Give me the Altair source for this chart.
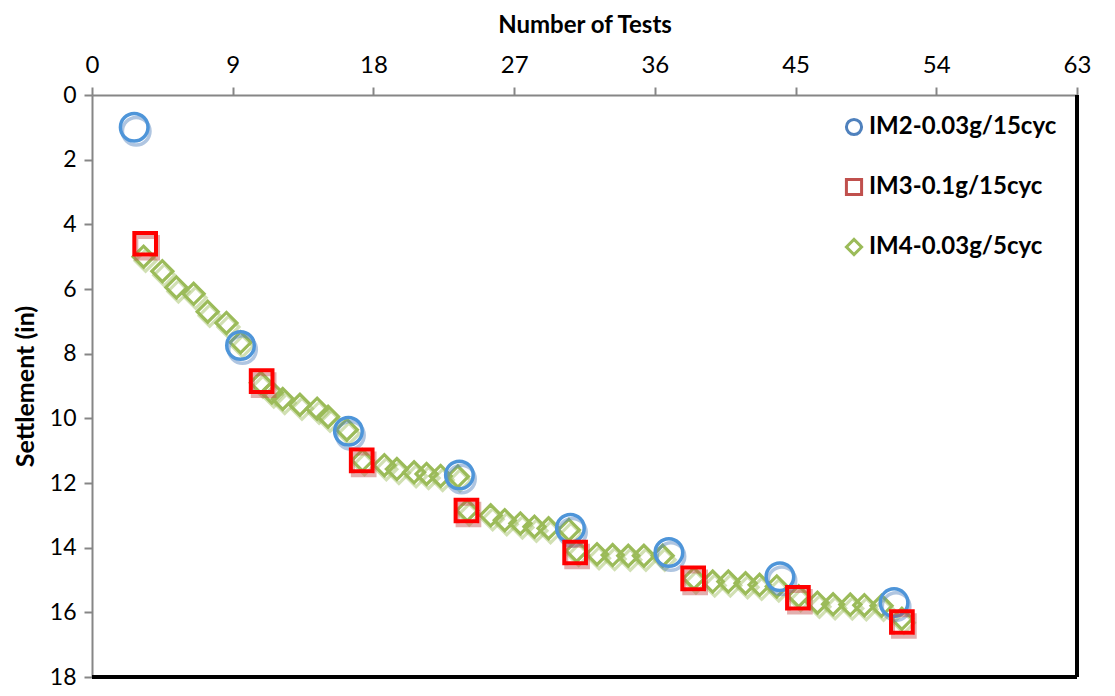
import altair as alt
import pandas as pd

series_names = ["IM2-0.03g/15cyc", "IM3-0.1g/15cyc", "IM4-0.03g/5cyc"]
legend_colors = ["#4f81bd", "#c0504d", "#9bbb59"]
front_colors = ["#4e95d9", "#ff0000", "#9bbb59"]
shapes = ["circle", "square", "diamond"]

im2_tests = [2.7, 9.5, 16.4, 23.5, 30.6, 36.9, 44.0, 51.3]
im2_settle = [1.0, 7.75, 10.4, 11.75, 13.4, 14.15, 14.9, 15.7]

im3_tests = [3.4, 10.85, 17.25, 23.95, 30.9, 38.45, 45.15, 51.8]
im3_settle = [4.6, 8.85, 11.3, 12.85, 14.15, 14.95, 15.55, 16.3]

im4_tests = [3.3, 4.5, 5.4, 6.5, 7.4, 8.6, 9.5, 10.8, 11.5, 12.2, 13.3, 14.4, 15.1,
             16.3, 17.3, 18.7, 19.5, 20.6, 21.4, 22.3, 23.4, 24.0, 25.5, 26.4, 27.4,
             28.3, 29.2, 30.5, 31.0, 32.3, 33.3, 34.3, 35.3, 36.5, 38.5, 39.7, 40.7,
             41.8, 42.7, 43.8, 45.2, 46.4, 47.4, 48.5, 49.4, 50.5, 51.8]
im4_settle = [5.0, 5.45, 5.95, 6.15, 6.7, 7.05, 7.65, 8.9, 9.2, 9.4, 9.58, 9.7, 9.95,
              10.35, 11.3, 11.45, 11.57, 11.67, 11.72, 11.78, 11.8, 12.85, 13.0, 13.15, 13.25,
              13.35, 13.4, 13.45, 14.1, 14.2, 14.23, 14.25, 14.25, 14.25, 14.95, 15.05, 15.05,
              15.1, 15.15, 15.2, 15.5, 15.7, 15.75, 15.76, 15.78, 15.8, 16.2]

x_ticks = [0, 9, 18, 27, 36, 45, 54, 63]
y_ticks = [0, 2, 4, 6, 8, 10, 12, 14, 16, 18]

rows = []
for name, xs, ys in [(series_names[0], im2_tests, im2_settle),
                     (series_names[1], im3_tests, im3_settle),
                     (series_names[2], im4_tests, im4_settle)]:
    for a, b in zip(xs, ys):
        rows.append({"series": name, "tests": a, "settlement": b})
df = pd.DataFrame(rows)

FONT = "Lato"

x_enc = alt.X("tests:Q", scale=alt.Scale(domain=[0, 63], nice=False, zero=False),
              axis=alt.Axis(orient="top", values=x_ticks, title="Number of Tests",
                            titleFontWeight="bold", titleFontSize=24, titleFont=FONT,
                            titleBaseline="top", titleY=-82, titleColor="black",
                            labelFontSize=24, labelFont=FONT, labelColor="black",
                            labelPadding=10, tickSize=8, tickColor="#868686", tickWidth=2,
                            domainColor="#868686", domainWidth=2, grid=False, labelFlush=False))
y_enc = alt.Y("settlement:Q", scale=alt.Scale(domain=[0, 18], reverse=True, nice=False, zero=False),
              axis=alt.Axis(orient="left", values=y_ticks, title="Settlement (in)",
                            titleFontWeight="bold", titleFontSize=25, titleFont=FONT,
                            titleBaseline="alphabetic", titleX=-59, titleAngle=270,
                            titleColor="black",
                            labelFontSize=23, labelFont=FONT, labelColor="black",
                            labelPadding=8, tickSize=8, tickColor="#868686", tickWidth=2,
                            domainColor="#868686", domainWidth=2, grid=False, labelFlush=False))

legend = alt.Legend(title=None, orient="none", legendX=750, legendY=20,
                    labelFont=FONT, labelFontSize=24, labelFontWeight="bold", labelColor="black",
                    labelLimit=0,
                    symbolSize=230, symbolStrokeWidth=3, symbolOpacity=1, rowPadding=32,
                    labelOffset=3, symbolType="circle")

sizes = {series_names[0]: 760, series_names[1]: 470, series_names[2]: 440}
widths = {series_names[0]: 3.5, series_names[1]: 4, series_names[2]: 3.2}

layers = []
for idx in [2, 0, 1]:
    name = series_names[idx]
    shadow = alt.Chart(df).transform_filter(alt.datum.series == name).mark_point(
        filled=False, size=sizes[name], strokeWidth=widths[name], opacity=0.45,
        xOffset=2, yOffset=4
    ).encode(
        x=x_enc, y=y_enc,
        shape=alt.Shape("series:N", scale=alt.Scale(domain=series_names, range=shapes), legend=legend),
        stroke=alt.Stroke("series:N", scale=alt.Scale(domain=series_names, range=legend_colors), legend=legend),
    )
    front = alt.Chart(df).transform_filter(alt.datum.series == name).mark_point(
        filled=False, size=sizes[name], strokeWidth=widths[name], opacity=1,
        shape=shapes[idx], color=front_colors[idx]
    ).encode(x=x_enc, y=y_enc)
    layers += [shadow, front]

border_right = alt.Chart(df).mark_rule(color="black", strokeWidth=3).encode(
    x=alt.datum(63), y=alt.datum(0), y2=alt.datum(18))
border_bottom = alt.Chart(df).mark_rule(color="black", strokeWidth=3).encode(
    y=alt.datum(18), x=alt.datum(0), x2=alt.datum(63))

chart = alt.layer(*layers, border_right, border_bottom).properties(
    width=985, height=582,
    autosize=alt.AutoSizeParams(type="none"),
    padding={"left": 84, "top": 87, "right": 30, "bottom": 11},
    background="white",
).configure_view(stroke=None)

chart.save("out.html", embed_options={"renderer": "svg", "actions": False})
